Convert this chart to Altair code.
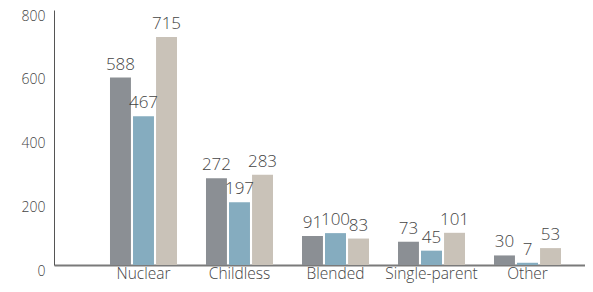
import altair as alt
import pandas as pd

categories = ["Nuclear", "Childless", "Blended", "Single-parent", "Other"]
series = ["Series 1", "Series 2", "Series 3"]
values_s1 = [588, 272, 91, 73, 30]
values_s2 = [467, 197, 100, 45, 7]
values_s3 = [715, 283, 83, 101, 53]
colors = ["#8b8f94", "#85acbf", "#c9c2b8"]
y_ticks = [0, 200, 400, 600, 800]

rows = []
for vals, s in zip([values_s1, values_s2, values_s3], series):
    for c, v in zip(categories, vals):
        rows.append({"category": c, "series": s, "value": v})
df = pd.DataFrame(rows)

W = 531
H = 255

x = alt.X("category:N", sort=categories, title=None,
          scale=alt.Scale(paddingInner=0.302, paddingOuter=0.4166, align=0.7),
          axis=alt.Axis(labelAngle=0, labelFontSize=15.5, labelColor="#444444",
                        labelFont="Open Sans", labelFontWeight=300,
                        labelPadding=1, ticks=False, domainColor="#7a7a7a",
                        domainWidth=2))
xo = alt.XOffset("series:N", sort=series,
                 scale=alt.Scale(paddingInner=0.09, paddingOuter=0))
y = alt.Y("value:Q", title=None,
          scale=alt.Scale(domain=[0, 800], nice=False),
          axis=alt.Axis(values=y_ticks, grid=False, ticks=False,
                        labelFontSize=14, labelColor="#444444",
                        labelFont="Open Sans", labelFontWeight=300,
                        labelPadding=9, labelOffset=6,
                        domainColor="#555555", domainWidth=1))
color = alt.Color("series:N", sort=series,
                  scale=alt.Scale(domain=series, range=colors), legend=None)

bars = alt.Chart(df).mark_bar().encode(x=x, xOffset=xo, y=y, color=color)
labels = alt.Chart(df).mark_text(baseline="alphabetic", dy=-8, fontSize=17,
                                 font="Open Sans", fontWeight=300,
                                 color="#444444").encode(
    x=alt.X("category:N", sort=categories),
    xOffset=xo, y="value:Q", text="value:Q")

chart = alt.layer(bars, labels).properties(
    width=W, height=H,
    autosize=alt.AutoSizeParams(type="none"),
    padding={"left": 46, "top": 2, "right": 0, "bottom": 19},
).configure_view(stroke=None)

chart.save("out.html", embed_options={"renderer": "svg", "actions": False})
